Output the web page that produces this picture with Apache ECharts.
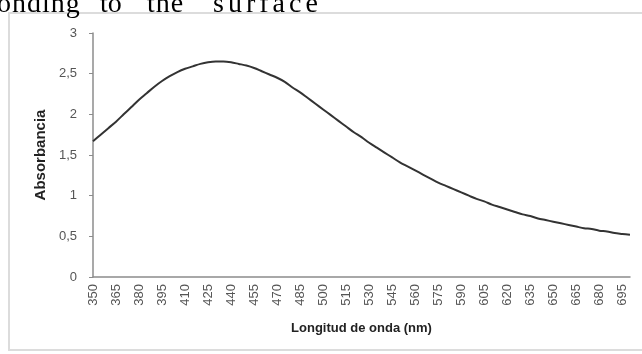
<!DOCTYPE html>
<html>
<head>
<meta charset="utf-8">
<script src="https://cdn.jsdelivr.net/npm/echarts@6/dist/echarts.min.js"></script>
<style>
  html, body { margin: 0; padding: 0; background: #fff; }
  #wrap { position: relative; width: 642px; height: 354px; overflow: hidden; }
  #chart { position: absolute; left: 0; top: 0; width: 642px; height: 354px; }
  .w { position: absolute; top: -11px; font-family: "Liberation Serif", "DejaVu Serif", serif; font-size: 28px; color: #000; line-height: 28px; white-space: nowrap; }
</style>
</head>
<body>
<div id="wrap">
  <div id="chart"></div>
  <span class="w" style="left:-3px;letter-spacing:1px">onding</span>
  <span class="w" style="left:100px">to</span>
  <span class="w" style="left:147px;letter-spacing:1px">the</span>
  <span class="w" style="left:213px;letter-spacing:4px">surface</span>
</div>
<script>
// Wavelengths (nm), sampled every 5 nm
const wavelengths = [];
for (let w = 350; w <= 700; w += 5) wavelengths.push(String(w));

// Absorbance at each wavelength
const absorbance = [
  1.67, 1.75, 1.83, 1.91, 2.00, 2.09, 2.18, 2.26, 2.34, 2.41,
  2.47, 2.52, 2.56, 2.59, 2.62, 2.64, 2.65, 2.65, 2.64, 2.62,
  2.60, 2.57, 2.53, 2.49, 2.45, 2.40, 2.33, 2.27, 2.20, 2.13,
  2.06, 1.99, 1.92, 1.85, 1.78, 1.72, 1.65, 1.59, 1.53, 1.47,
  1.41, 1.36, 1.31, 1.26, 1.21, 1.16, 1.12, 1.08, 1.04, 1.00,
  0.96, 0.93, 0.89, 0.86, 0.83, 0.80, 0.77, 0.75, 0.72, 0.70,
  0.68, 0.66, 0.64, 0.62, 0.60, 0.59, 0.57, 0.56, 0.54, 0.53,
  0.52
];

const chart = echarts.init(document.getElementById('chart'), null, { renderer: 'canvas' });

chart.setOption({
  animation: false,
  backgroundColor: 'transparent',
  graphic: [{
    type: 'rect',
    shape: { x: 9, y: 13, width: 660, height: 337 },
    style: { fill: 'none', stroke: '#dcdcdc', lineWidth: 2 },
    silent: true,
    z: -1
  }],
  grid: { left: 93, right: 12, top: 33, bottom: 77 },
  xAxis: {
    type: 'category',
    data: wavelengths,
    boundaryGap: false,
    name: 'Longitud de onda (nm)',
    nameLocation: 'middle',
    nameGap: 45,
    nameTextStyle: { fontFamily: 'Liberation Sans, Arial, sans-serif', fontWeight: 'bold', fontSize: 13, color: '#222' },
    axisLine: { lineStyle: { color: '#8c8c8c', width: 1.5 } },
    axisTick: { show: false },
    axisLabel: {
      interval: 2,
      rotate: 90,
      margin: 7,
      fontFamily: 'Liberation Sans, Arial, sans-serif',
      fontSize: 13,
      color: '#555'
    },
    splitLine: { show: false }
  },
  yAxis: {
    type: 'value',
    min: 0,
    max: 3,
    interval: 0.5,
    name: 'Absorbancia',
    nameLocation: 'middle',
    nameGap: 45,
    nameTextStyle: { fontFamily: 'Liberation Sans, Arial, sans-serif', fontWeight: 'bold', fontSize: 15, color: '#222' },
    axisLine: { show: true, lineStyle: { color: '#8c8c8c', width: 1.5 } },
    axisTick: { show: true, length: 4, lineStyle: { color: '#8c8c8c' } },
    axisLabel: {
      margin: 16,
      fontFamily: 'Liberation Sans, Arial, sans-serif',
      fontSize: 13,
      color: '#555',
      formatter: v => String(v).replace('.', ',')
    },
    splitLine: { show: false }
  },
  series: [{
    type: 'line',
    data: absorbance,
    showSymbol: false,
    smooth: 0.3,
    lineStyle: { color: '#333', width: 2 }
  }]
});
</script>
</body>
</html>
